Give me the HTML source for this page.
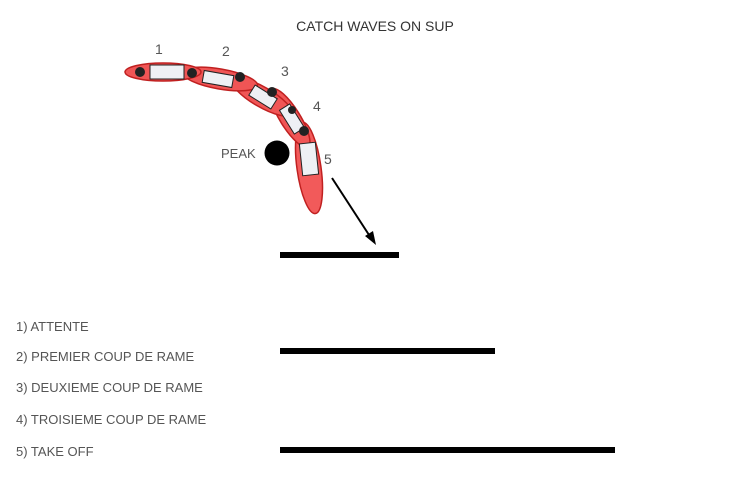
<!DOCTYPE html>
<html><head><style>
body{margin:0;background:#fff;width:736px;height:491px;overflow:hidden;font-family:"Liberation Sans",sans-serif;color:#444}
svg{position:absolute;left:0;top:0}
</style></head><body>
<svg width="736" height="491" viewBox="0 0 736 491">
<g font-family="Liberation Sans,sans-serif" fill="#333">
<text x="375" y="31" font-size="14" text-anchor="middle">CATCH WAVES ON SUP</text>
<text x="155" y="54" font-size="14" fill="#555">1</text>
<text x="222" y="56" font-size="14" fill="#555">2</text>
<text x="281" y="76" font-size="14" fill="#555">3</text>
<text x="313" y="111" font-size="14" fill="#555">4</text>
<text x="324" y="164" font-size="14" fill="#555">5</text>
<text x="221" y="158" font-size="13" fill="#555">PEAK</text>
</g>
<g stroke="#c02020" stroke-width="1.5">
<ellipse cx="309" cy="168" rx="46" ry="12" transform="rotate(82 309 168)" fill="#f25a5a"/>
<ellipse cx="290" cy="118" rx="34" ry="10" transform="rotate(58 290 118)" fill="#f05555"/>
<ellipse cx="262" cy="97" rx="34" ry="10" transform="rotate(30 262 97)" fill="#f05555"/>
<ellipse cx="220" cy="79" rx="38" ry="10" transform="rotate(10 220 79)" fill="#f05555"/>
<ellipse cx="163" cy="72" rx="38" ry="9" fill="#f05555"/>
</g>
<g fill="#eef0f4" stroke="#222" stroke-width="1">
<rect x="150" y="65" width="34" height="14"/>
<rect x="203" y="73" width="30" height="12" transform="rotate(10 218 79)"/>
<rect x="250" y="91" width="26" height="12" transform="rotate(32 263 97)"/>
<rect x="278" y="113" width="28" height="12" transform="rotate(58 292 119)"/>
<rect x="301" y="143" width="16" height="32" transform="rotate(-6 309 159)"/>
</g>
<g fill="#222">
<circle cx="140" cy="72" r="5"/><circle cx="192" cy="73" r="5"/><circle cx="240" cy="77" r="5"/>
<circle cx="272" cy="92" r="5"/><circle cx="292" cy="110" r="4"/><circle cx="304" cy="131" r="5"/>
</g>
<circle cx="277" cy="153" r="12.5" fill="#000"/>
<line x1="332" y1="178" x2="371" y2="238" stroke="#000" stroke-width="2"/>
<polygon points="376,245 365,236 373,231" fill="#000"/>
<rect x="280" y="252" width="119" height="6" fill="#000"/>
<rect x="280" y="348" width="215" height="6" fill="#000"/>
<rect x="280" y="447" width="335" height="6" fill="#000"/>
<g font-family="Liberation Sans,sans-serif" font-size="13" fill="#555">
<text x="16" y="331">1) ATTENTE</text>
<text x="16" y="361">2) PREMIER COUP DE RAME</text>
<text x="16" y="392">3) DEUXIEME COUP DE RAME</text>
<text x="16" y="424">4) TROISIEME COUP DE RAME</text>
<text x="16" y="456">5) TAKE OFF</text>
</g>
</svg>
</body></html>
